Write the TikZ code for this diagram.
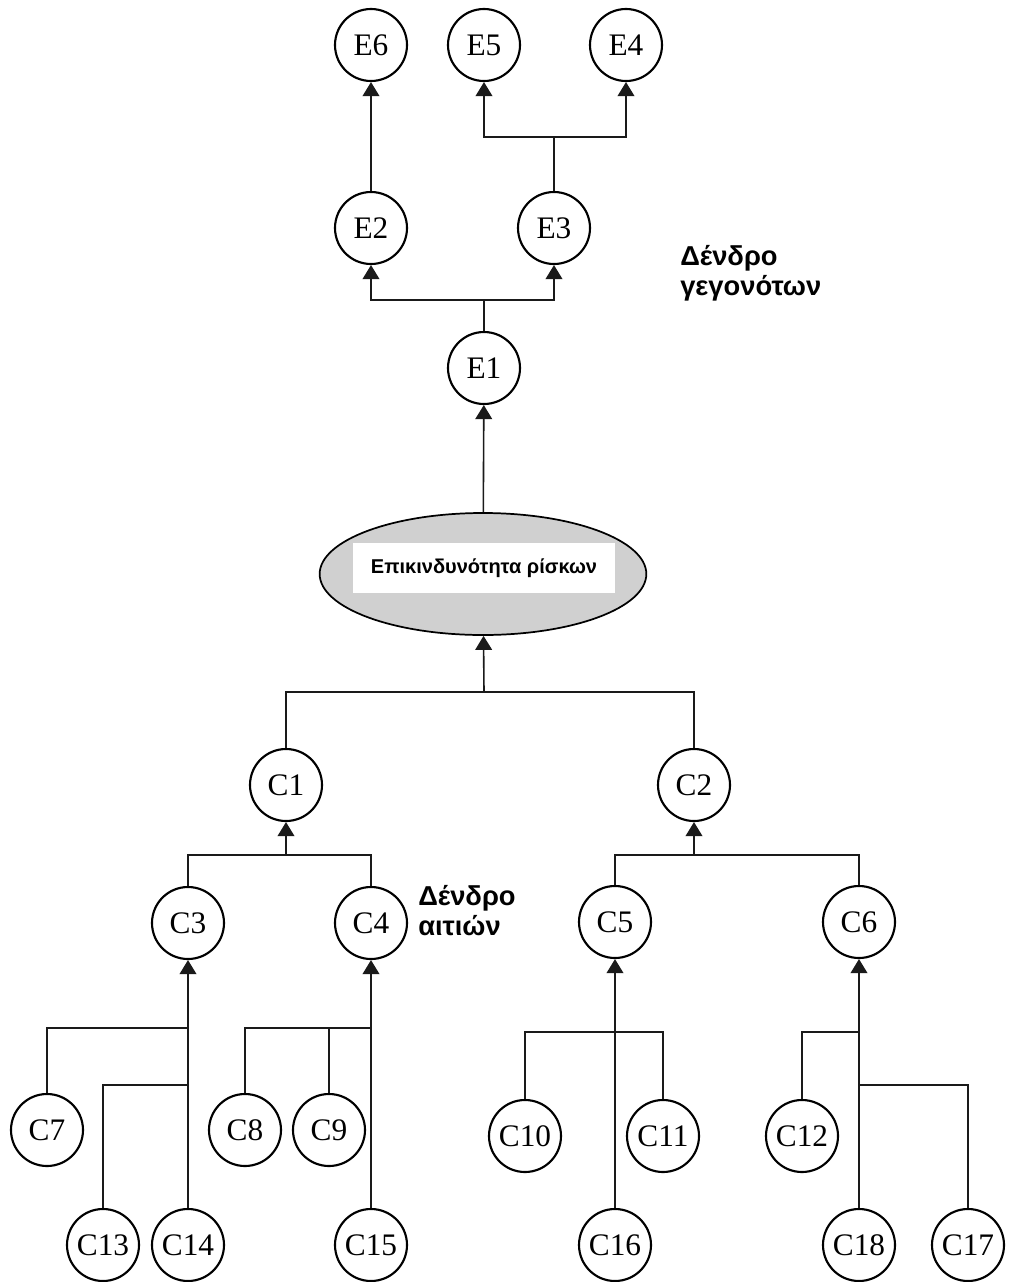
\documentclass[tikz,border=0pt]{standalone}
\usepackage{fontspec}
\setmainfont{Liberation Serif}
\newfontfamily\labelfont{Liberation Sans}
\usetikzlibrary{arrows.meta,shapes.geometric}
\definecolor{ovalgrey}{HTML}{D0D0D0}
\definecolor{wire}{HTML}{1A1A1A}
\begin{document}
\begin{tikzpicture}[x=0.75pt,y=-0.75pt,
  evt/.style={circle,draw=black,line width=1.6pt,minimum size=54pt,inner sep=0pt,
    font=\fontsize{23.5}{23.5}\selectfont},
  link/.style={draw=wire,line width=1.2pt},
  arr/.style={link,-{Triangle[width=12.5pt,length=10.5pt]}},
  tree/.style={font=\labelfont\bfseries\fontsize{20.5}{22.5}\selectfont,align=left,anchor=north west,inner sep=0pt}]
\useasboundingbox (0,0) rectangle (1013,1282);

% event tree
\node[evt] (E6) at (371,45) {E6};
\node[evt] (E5) at (484,45) {E5};
\node[evt] (E4) at (626,45) {E4};
\node[evt] (E2) at (371,228) {E2};
\node[evt] (E3) at (554,228) {E3};
\node[evt] (E1) at (484,368) {E1};

% central event
\node[ellipse,draw=black,line width=1.3pt,fill=ovalgrey,minimum width=245pt,minimum height=91.5pt] (risk) at (483,574) {};
\node[fill=white,minimum width=197pt,minimum height=37.5pt,inner sep=0pt,
  font=\labelfont\bfseries\fontsize{15}{16}\selectfont] (risklbl) at (484,568) {Επικινδυνότητα ρίσκων};

% cause tree
\node[evt] (C1) at (286,785) {C1};
\node[evt] (C2) at (694,785) {C2};
\node[evt] (C3) at (188,923) {C3};
\node[evt] (C4) at (371,923) {C4};
\node[evt] (C5) at (615,922) {C5};
\node[evt] (C6) at (859,922) {C6};
\node[evt] (C7) at (47,1130) {C7};
\node[evt] (C8) at (245,1130) {C8};
\node[evt] (C9) at (329,1130) {C9};
\node[evt] (C10) at (525,1136) {C10};
\node[evt] (C11) at (663,1136) {C11};
\node[evt] (C12) at (802,1136) {C12};
\node[evt] (C13) at (103,1245) {C13};
\node[evt] (C14) at (188,1245) {C14};
\node[evt] (C15) at (371,1245) {C15};
\node[evt] (C16) at (615,1245) {C16};
\node[evt] (C18) at (859,1245) {C18};
\node[evt] (C17) at (968,1245) {C17};

% tree captions
\node[tree] (evtcap) at (680,245) {Δένδρο\\γεγονότων};
\node[tree] (causecap) at (418,885) {Δένδρο\\αιτιών};

% junction points
\coordinate (jE1) at (484,300);
\coordinate (jE3) at (554,137);
\coordinate (jR) at (484,692);
\coordinate (jC1) at (286,855);
\coordinate (jC2) at (694,855);
\coordinate (jC3a) at (188,1028);
\coordinate (jC3b) at (188,1085);
\coordinate (jC4) at (371,1028);
\coordinate (jC5) at (615,1032);
\coordinate (jC6a) at (859,1032);
\coordinate (jC6b) at (859,1085);

% event tree connectors
\draw[arr] (E2) -- (E6);
\draw[link] (E3) -- (jE3);
\draw[arr] (jE3) -| (E5);
\draw[arr] (jE3) -| (E4);
\draw[link] (E1) -- (jE1);
\draw[arr] (jE1) -| (E2);
\draw[arr] (jE1) -| (E3);
\draw[arr] (risk) -- (E1);

% cause tree connectors
\draw[arr] (jR) -- (risk);
\draw[link] (C1) |- (jR) -| (C2);
\draw[arr] (jC1) -- (C1);
\draw[link] (C3) |- (jC1) -| (C4);
\draw[arr] (jC2) -- (C2);
\draw[link] (C5) |- (jC2) -| (C6);

\draw[arr] (C14) -- (C3);
\draw[link] (C7) |- (jC3a);
\draw[link] (C13) |- (jC3b);

\draw[arr] (C15) -- (C4);
\draw[link] (C8) |- (jC4);
\draw[link] (C9) -- (C9.north |- jC4);

\draw[arr] (C16) -- (C5);
\draw[link] (C10) |- (jC5) -| (C11);

\draw[arr] (C18) -- (C6);
\draw[link] (C12) |- (jC6a);
\draw[link] (jC6b) -| (C17);
\end{tikzpicture}
\end{document}
